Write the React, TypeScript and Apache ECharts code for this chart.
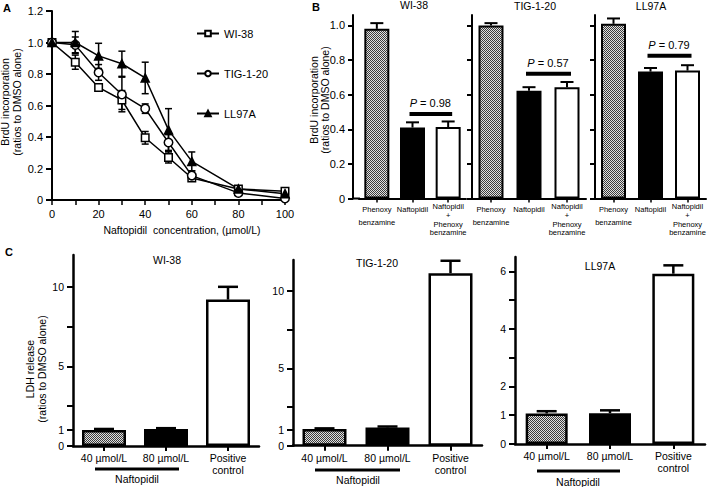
import React, { useEffect, useRef } from 'react';
import * as echarts from 'echarts';

// ---------- Panel A data ----------
const concentrations = [0, 10, 20, 30, 40, 50, 60, 80, 100];
const aXTicks = [0, 20, 40, 60, 80, 100];
const wi38Brdu = [1.0, 0.875, 0.715, 0.635, 0.395, 0.27, 0.14, 0.07, 0.055];
const wi38BrduErr = [0.01, 0.045, 0.015, 0.06, 0.04, 0.035, 0.02, 0.01, 0.015];
const tigBrdu = [1.0, 0.985, 0.81, 0.67, 0.58, 0.365, 0.155, 0.045, 0.01];
const tigBrduErr = [0.01, 0.05, 0.05, 0.11, 0.03, 0.05, 0.03, 0.01, 0.01];
const llBrdu = [1.0, 1.0, 0.915, 0.865, 0.775, 0.445, 0.245, 0.07, 0.04];
const llBrduErr = [0.01, 0.07, 0.08, 0.08, 0.1, 0.135, 0.06, 0.01, 0.01];
const cellLines = ['WI-38', 'TIG-1-20', 'LL97A'];

// ---------- Panel B data ----------
const bCategories = ['Phenoxy benzamine', 'Naftopidil', 'Naftopidil + Phenoxy benzamine'];
const bTicks = [0, 0.2, 0.4, 0.6, 0.8, 1.0];
const bWi38 = [0.98, 0.41, 0.413];
const bWi38Err = [0.033, 0.03, 0.032];
const bTig = [0.999, 0.623, 0.643];
const bTigErr = [0.014, 0.02, 0.03];
const bLl = [1.009, 0.733, 0.739];
const bLlErr = [0.031, 0.021, 0.031];
const bPValues = ['0.98', '0.57', '0.79'];
const bPLevels = [0.488, 0.72, 0.824];

// ---------- Panel C data ----------
const cCategories = ['40 µmol/L', '80 µmol/L', 'Positive control'];
const cWi38 = [1.0, 1.07, 9.2];
const cWi38Err = [0.07, 0.05, 0.8];
const cTig = [1.08, 1.18, 11.15];
const cTigErr = [0.04, 0.06, 0.8];
const cLl = [1.06, 1.07, 5.92];
const cLlErr = [0.08, 0.1, 0.29];
const cTicks12 = [0, 1, 2.5, 5, 7.5, 10];
const cLabels12 = [0, 1, 5, 10];
const cTicks6 = [0, 1, 2, 3, 4, 5, 6];
const cLabels6 = [0, 1, 2, 4, 6];

const FONT = "'Liberation Sans', Arial, Helvetica, sans-serif";
const K = '#000';

function makeHatch(): any {
  const c = document.createElement('canvas');
  c.width = 4;
  c.height = 4;
  const ctx = c.getContext('2d');
  if (!ctx) return '#9a9a9a';
  ctx.fillStyle = '#e0e0e0';
  ctx.fillRect(0, 0, 4, 4);
  ctx.fillStyle = '#3c3c3c';
  for (let y = 0; y < 4; y++) for (let x = 0; x < 4; x++) if ((x + y) % 2 === 0) ctx.fillRect(x, y, 1, 1);
  return { image: c, repeat: 'repeat', imageWidth: 4, imageHeight: 4 };
}

function errorRender(capHalf: number, lw: number, upOnly: boolean) {
  return (params: any, api: any) => {
    const x = api.value(0);
    const y = api.value(1);
    const e = api.value(2);
    const top = api.coord([x, y + e]);
    const bot = api.coord([x, upOnly ? y : y - e]);
    const st = { stroke: K, lineWidth: lw };
    const children: any[] = [
      { type: 'line', shape: { x1: top[0], y1: top[1], x2: bot[0], y2: bot[1] }, style: st },
      { type: 'line', shape: { x1: top[0] - capHalf, y1: top[1], x2: top[0] + capHalf, y2: top[1] }, style: st },
    ];
    if (!upOnly) {
      children.push({ type: 'line', shape: { x1: bot[0] - capHalf, y1: bot[1], x2: bot[0] + capHalf, y2: bot[1] }, style: st });
    }
    return { type: 'group', children };
  };
}

function pRender(label: string) {
  return (params: any, api: any) => {
    const a = api.coord([api.value(0), api.value(1)]);
    const b = api.coord([api.value(2), api.value(1)]);
    const mid = (a[0] + b[0]) / 2;
    return {
      type: 'group',
      children: [
        { type: 'line', shape: { x1: a[0] - 3, y1: a[1], x2: b[0] + 4, y2: b[1] }, style: { stroke: K, lineWidth: 4 } },
        {
          type: 'text',
          x: mid,
          y: a[1] - 11,
          style: {
            text: '{i|P}{n| = ' + label + '}',
            align: 'center',
            verticalAlign: 'middle',
            fill: K,
            fontSize: 11,
            fontFamily: FONT,
            rich: {
              i: { fontStyle: 'italic', fontSize: 11, fontFamily: FONT, fill: K },
              n: { fontSize: 11, fontFamily: FONT, fill: K },
            },
          },
        },
      ],
    };
  };
}

function buildOption() {
  const hatch = makeHatch();
  const fills = [hatch, K, '#fff'];
  const txt = { color: K, fontFamily: FONT };

  const grid = [
    { left: 52, top: 11, width: 233, height: 189 },
    { left: 359, top: 15, width: 107, height: 183.5 },
    { left: 472, top: 15, width: 114, height: 183.5 },
    { left: 595, top: 15, width: 111, height: 183.5 },
    { left: 73, top: 255, width: 186, height: 191 },
    { left: 293, top: 260, width: 189, height: 185.7 },
    { left: 515, top: 257, width: 190, height: 187 },
  ];

  const xAxis: any[] = [];
  const yAxis: any[] = [];

  // Panel A axes
  xAxis.push({
    gridIndex: 0, type: 'value', min: 0, max: 100, interval: 10,
    axisLine: { show: true, lineStyle: { color: K, width: 2 } },
    axisTick: { show: true, length: 5, lineStyle: { color: K, width: 1.5 } },
    axisLabel: { ...txt, fontSize: 11, margin: 8, formatter: (v: number) => (aXTicks.includes(v) ? String(v) : '') },
    splitLine: { show: false },
  });
  yAxis.push({
    gridIndex: 0, type: 'value', min: 0, max: 1.2, interval: 0.2,
    axisLine: { show: true, lineStyle: { color: K, width: 2 } },
    axisTick: { show: true, length: 6, lineStyle: { color: K, width: 2 } },
    axisLabel: { ...txt, fontSize: 11, margin: 9, formatter: (v: number) => (v === 0 ? '0' : v.toFixed(1)) },
    splitLine: { show: false },
  });

  // Panel B axes
  const bRich = {
    a: { fontSize: 7.5, lineHeight: 13, fontFamily: FONT, color: K },
    b: { fontSize: 7.5, lineHeight: 8.7, fontFamily: FONT, color: K },
  };
  for (let i = 0; i < 3; i++) {
    xAxis.push({
      gridIndex: 1 + i, type: 'category', data: bCategories,
      axisLine: { show: true, lineStyle: { color: K, width: 2 } },
      axisTick: { show: true, alignWithLabel: true, length: 4, lineStyle: { color: K, width: 1.5 } },
      axisLabel: {
        ...txt, interval: 0, margin: 4, fontSize: 7.5,
        formatter: (v: string) => {
          const words = v.split(' ');
          if (words.length > 2) return words.map((w) => '{b|' + w + '}').join('\n');
          return words.map((w) => '{a|' + w + '}').join('\n');
        },
        rich: bRich,
      },
      splitLine: { show: false },
    });
    yAxis.push({
      gridIndex: 1 + i, type: 'value', min: 0, max: 1.06, offset: i === 0 ? 6 : 0,
      axisLine: { show: true, lineStyle: { color: K, width: 2 } },
      axisTick: { show: true, length: 5, customValues: bTicks, lineStyle: { color: K, width: 2 } },
      axisLabel: {
        ...txt, show: i === 0, fontSize: 11, margin: 8, customValues: bTicks,
        formatter: (v: number) => (v === 0 ? '0' : v.toFixed(1)),
      },
      splitLine: { show: false },
    });
  }

  // Panel C axes
  for (let i = 0; i < 3; i++) {
    xAxis.push({
      gridIndex: 4 + i, type: 'category', data: cCategories,
      axisLine: { show: true, lineStyle: { color: K, width: 2.5 } },
      axisTick: { show: true, alignWithLabel: true, length: 5, lineStyle: { color: K, width: 2 } },
      axisLabel: {
        ...txt, interval: 0, margin: 6, fontSize: 10.5, lineHeight: 12,
        formatter: (v: string) => (v.startsWith('Positive') ? v.replace(' ', '\n') : v),
      },
      splitLine: { show: false },
    });
    const six = i === 2;
    yAxis.push({
      gridIndex: 4 + i, type: 'value', min: 0, max: six ? 6.5 : 12,
      axisLine: { show: true, lineStyle: { color: K, width: 2.5 } },
      axisTick: { show: true, length: 6, customValues: six ? cTicks6 : cTicks12, lineStyle: { color: K, width: 2 } },
      axisLabel: { ...txt, fontSize: 10.5, margin: 9, customValues: six ? cLabels6 : cLabels12 },
      splitLine: { show: false },
    });
  }

  const series: any[] = [];

  // Panel A series
  const aVals = [wi38Brdu, tigBrdu, llBrdu];
  const aErrs = [wi38BrduErr, tigBrduErr, llBrduErr];
  const aSymbols = ['rect', 'circle', 'triangle'];
  const aSizes = [7.5, 8.5, 8];
  const aFills = ['#fff', '#fff', K];
  for (let s = 0; s < 3; s++) {
    series.push({
      type: 'custom', name: cellLines[s] + ' error', xAxisIndex: 0, yAxisIndex: 0,
      renderItem: errorRender(3.5, 1.5, false),
      data: concentrations.map((c, i) => [c, aVals[s][i], aErrs[s][i]]),
      encode: { x: 0, y: 1 }, z: 2, silent: true,
    });
  }
  for (let s = 0; s < 3; s++) {
    series.push({
      type: 'line', name: cellLines[s], xAxisIndex: 0, yAxisIndex: 0,
      data: concentrations.map((c, i) => [c, aVals[s][i]]),
      symbol: aSymbols[s], symbolSize: aSizes[s], showAllSymbol: true,
      itemStyle: { color: aFills[s], borderColor: K, borderWidth: 1.5 },
      lineStyle: { color: K, width: 1.5 }, z: 3,
    });
  }

  // Panel B series
  const bVals = [bWi38, bTig, bLl];
  const bErrs = [bWi38Err, bTigErr, bLlErr];
  for (let g = 0; g < 3; g++) {
    series.push({
      type: 'custom', name: 'B err ' + g, xAxisIndex: 1 + g, yAxisIndex: 1 + g,
      renderItem: errorRender(6.5, 2, true),
      data: bVals[g].map((v, i) => [i, v, bErrs[g][i]]),
      encode: { x: 0, y: 1 }, z: 1, silent: true,
    });
    series.push({
      type: 'bar', name: 'B ' + cellLines[g], xAxisIndex: 1 + g, yAxisIndex: 1 + g,
      barWidth: 25,
      data: bVals[g].map((v, i) => ({ value: v, itemStyle: { color: fills[i] } })),
      itemStyle: { borderColor: K, borderWidth: 2 }, z: 2,
    });
    series.push({
      type: 'custom', name: 'B p ' + g, xAxisIndex: 1 + g, yAxisIndex: 1 + g,
      renderItem: pRender(bPValues[g]),
      data: [[1, bPLevels[g], 2]],
      encode: { x: 0, y: 1 }, z: 4, silent: true,
    });
  }

  // Panel C series
  const cVals = [cWi38, cTig, cLl];
  const cErrs = [cWi38Err, cTigErr, cLlErr];
  for (let g = 0; g < 3; g++) {
    series.push({
      type: 'custom', name: 'C err ' + g, xAxisIndex: 4 + g, yAxisIndex: 4 + g,
      renderItem: errorRender(10, 2.5, true),
      data: cVals[g].map((v, i) => [i, v, cErrs[g][i]]),
      encode: { x: 0, y: 1 }, z: 1, silent: true,
    });
    series.push({
      type: 'bar', name: 'C ' + cellLines[g], xAxisIndex: 4 + g, yAxisIndex: 4 + g,
      barWidth: g === 2 ? 42 : 44,
      data: cVals[g].map((v, i) => ({ value: v, itemStyle: { color: fills[i] } })),
      itemStyle: { borderColor: K, borderWidth: 2.5 }, z: 2,
    });
  }

  const t = (text: string, x: number, y: number, extra: any = {}) => ({
    type: 'text', x, y, silent: true,
    style: { text, fill: K, fontFamily: FONT, fontSize: 10.5, align: 'center', verticalAlign: 'middle', ...extra },
  });
  const yName = 'BrdU incorporation\n(ratios to DMSO alone)';
  const graphic: any[] = [
    t('A', 7, 8, { fontWeight: 'bold', fontSize: 11 }),
    t('B', 316, 7, { fontWeight: 'bold', fontSize: 11 }),
    t('C', 9, 252, { fontWeight: 'bold', fontSize: 11 }),
    { ...t(yName, 11, 102, { lineHeight: 12.5 }), rotation: Math.PI / 2 },
    { ...t(yName, 319, 100, { lineHeight: 11 }), rotation: Math.PI / 2 },
    { ...t('LDH release\n(ratios to DMSO alone)', 36, 369, { lineHeight: 11.5 }), rotation: Math.PI / 2 },
    t('Naftopidil  concentration, (µmol/L)', 182, 230),
    t(cellLines[0], 414, 5),
    t(cellLines[1], 535, 6),
    t(cellLines[2], 651, 6),
    t(cellLines[0], 167, 260),
    t(cellLines[1], 377, 263),
    t(cellLines[2], 600, 266),
    { type: 'line', silent: true, shape: { x1: 352, y1: 198.5, x2: 360, y2: 198.5 }, style: { stroke: K, lineWidth: 2 } },
    { type: 'line', silent: true, shape: { x1: 95, y1: 469, x2: 179, y2: 469 }, style: { stroke: K, lineWidth: 3 } },
    { type: 'line', silent: true, shape: { x1: 315, y1: 470, x2: 400, y2: 470 }, style: { stroke: K, lineWidth: 3 } },
    { type: 'line', silent: true, shape: { x1: 537, y1: 471, x2: 620, y2: 471 }, style: { stroke: K, lineWidth: 3 } },
    t('Naftopidil', 137, 479),
    t('Naftopidil', 358, 480),
    t('Naftopidil', 578, 482),
  ];

  return {
    animation: false,
    backgroundColor: '#fff',
    textStyle: { fontFamily: FONT, color: K },
    grid,
    xAxis,
    yAxis,
    legend: {
      data: cellLines,
      orient: 'vertical',
      left: 196,
      top: 28,
      itemWidth: 22,
      itemHeight: 7,
      itemGap: 29,
      padding: 0,
      textStyle: { fontSize: 11, color: K, fontFamily: FONT },
      selectedMode: false,
    },
    series,
    graphic,
  };
}

export default function App() {
  const ref = useRef<HTMLDivElement>(null);
  useEffect(() => {
    if (!ref.current) return;
    const chart = echarts.init(ref.current, null, { renderer: 'svg' });
    chart.setOption(buildOption() as any);
    return () => chart.dispose();
  }, []);
  return (
    <div
      ref={ref}
      style={{ position: 'fixed', left: 0, top: 0, width: 709, height: 487, background: '#fff' }}
    />
  );
}
